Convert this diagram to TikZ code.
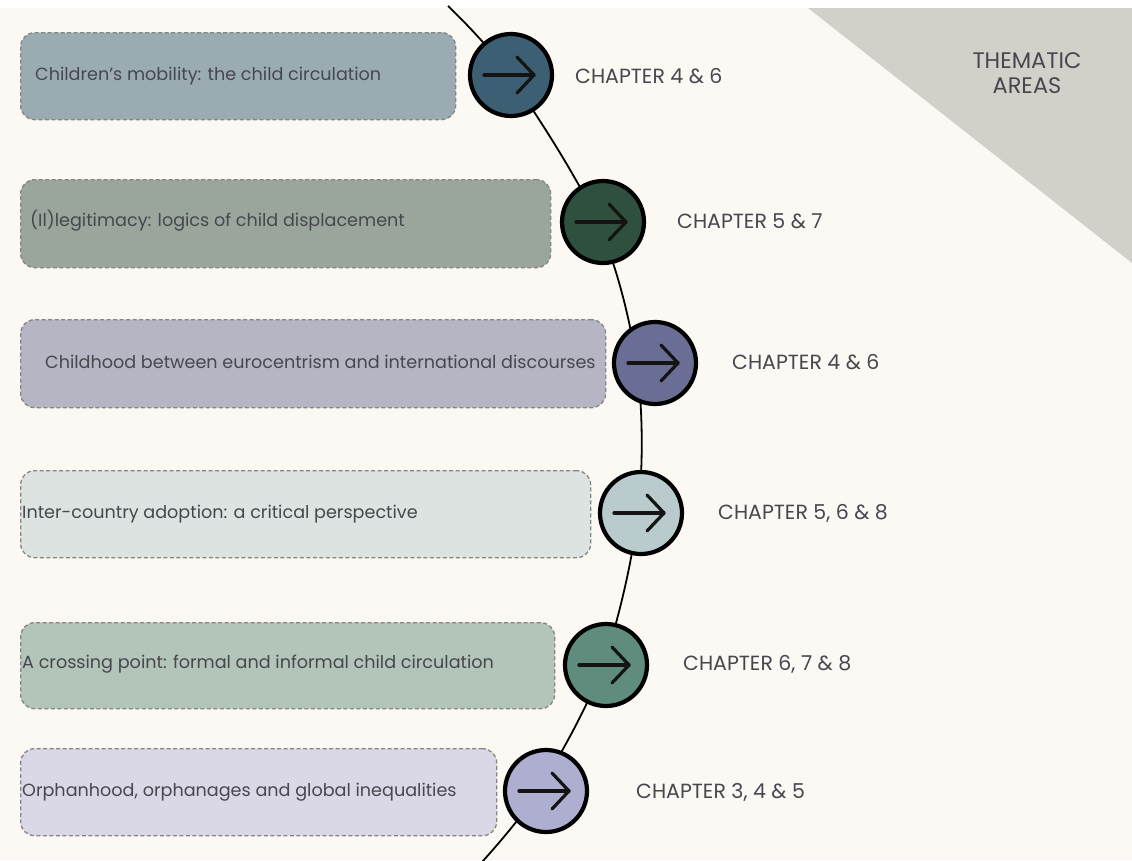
\documentclass[tikz,border=0pt]{standalone}
\usepackage{fontspec}
\setmainfont{Poppins}
\definecolor{paper}{HTML}{FCF8F3}
\definecolor{corner}{HTML}{D3D0C9}
\definecolor{ink}{HTML}{47474E}
\definecolor{edge}{HTML}{858585}
\definecolor{boxA}{HTML}{9AABB2}
\definecolor{dotA}{HTML}{3D5F73}
\definecolor{boxB}{HTML}{9AA69B}
\definecolor{dotB}{HTML}{2F4F3F}
\definecolor{boxC}{HTML}{B5B5C3}
\definecolor{dotC}{HTML}{6B6E94}
\definecolor{boxD}{HTML}{DDE3E1}
\definecolor{dotD}{HTML}{B9CBCC}
\definecolor{boxE}{HTML}{B3C4B8}
\definecolor{dotE}{HTML}{5F8C7C}
\definecolor{boxF}{HTML}{DAD8E6}
\definecolor{dotF}{HTML}{AEAED0}
\tikzset{
  themebox/.style={draw=edge, line width=1.3pt, dash pattern=on 4pt off 2.5pt,
    rounded corners=14pt, anchor=north west, inner sep=0pt},
  themetext/.style={anchor=west, inner sep=0pt, text=ink,
    font=\fontsize{17.6}{21}\selectfont},
  dot/.style={circle, draw=black, line width=4.2pt, minimum size=82pt, inner sep=0pt},
  chap/.style={anchor=west, inner sep=0pt, text=ink,
    font=\fontsize{20.5}{24}\selectfont},
  pointer/.style={draw=black!92, line width=3.2pt, line cap=round, line join=round},
  spine/.style={draw=black, line width=1.8pt}
}
\newcommand{\arrowin}[1]{%
  \draw[pointer] ([xshift=-27pt]#1.center) -- ([xshift=23pt]#1.center);
  \draw[pointer] ([xshift=6pt,yshift=18pt]#1.center) -- ([xshift=23pt]#1.center)
    -- ([xshift=6pt,yshift=-18pt]#1.center);}
\begin{document}
\begin{tikzpicture}[x=1pt,y=-1pt]
% page and corner
\fill[white] (0,0) rectangle (1132,860);
\fill[paper] (0,8) rectangle (1132,860);
\useasboundingbox (0,0) rectangle (1132,860);
\fill[corner] (808,8) -- (1132,8) -- (1132,263) -- cycle;
\node[text=ink, align=center, inner sep=0pt,
  font=\fontsize{22.5}{25}\selectfont] (title) at (1027,73) {THEMATIC\\AREAS};

% the curved spine behind the markers
\coordinate (s0) at (448,6);
\coordinate (s1) at (510,76);
\coordinate (s2) at (598,223);
\coordinate (s3) at (637,367);
\coordinate (s4) at (638,513);
\coordinate (s5) at (603,665);
\coordinate (s6) at (539,790);
\coordinate (s7) at (482,862);
\draw[spine] plot[smooth, tension=0.55] coordinates {(s0) (s1) (s2) (s3) (s4) (s5) (s6) (s7)};

% theme boxes
\node[themebox, fill=boxA, minimum width=435pt, minimum height=87pt] (bA) at (20,32) {};
\node[themebox, fill=boxB, minimum width=530pt, minimum height=88pt] (bB) at (20,179) {};
\node[themebox, fill=boxC, minimum width=585pt, minimum height=88pt] (bC) at (20,319) {};
\node[themebox, fill=boxD, minimum width=570pt, minimum height=87pt] (bD) at (20,470) {};
\node[themebox, fill=boxE, minimum width=534pt, minimum height=86pt] (bE) at (20,622) {};
\node[themebox, fill=boxF, minimum width=476pt, minimum height=87pt] (bF) at (20,748) {};

\node[themetext] (tA) at (35,76) {Children’s mobility: the child circulation};
\node[themetext] (tB) at (30,221) {(Il)legitimacy: logics of child displacement};
\node[themetext] (tC) at (45,362) {Childhood between eurocentrism and international discourses};
\node[themetext] (tD) at (22,514) {Inter-country adoption: a critical perspective};
\node[themetext] (tE) at (22,664) {A crossing point: formal and informal child circulation};
\node[themetext] (tF) at (22,792) {Orphanhood, orphanages and global inequalities};

% markers
\node[dot, fill=dotA] (cA) at (511,75) {};
\node[dot, fill=dotB] (cB) at (603,222) {};
\node[dot, fill=dotC] (cC) at (655,363) {};
\node[dot, fill=dotD] (cD) at (641,513) {};
\node[dot, fill=dotE] (cE) at (606,665) {};
\node[dot, fill=dotF] (cF) at (546,791) {};
\arrowin{cA}\arrowin{cB}\arrowin{cC}\arrowin{cD}\arrowin{cE}\arrowin{cF}

% chapter labels
\node[chap] (hA) at (575,76) {CHAPTER 4 \& 6};
\node[chap] (hB) at (677,221) {CHAPTER 5 \& 7};
\node[chap] (hC) at (732,362) {CHAPTER 4 \& 6};
\node[chap] (hD) at (718,513) {CHAPTER 5, 6 \& 8};
\node[chap] (hE) at (683,664) {CHAPTER 6, 7 \& 8};
\node[chap] (hF) at (636,792) {CHAPTER 3, 4 \& 5};
\end{tikzpicture}
\end{document}
